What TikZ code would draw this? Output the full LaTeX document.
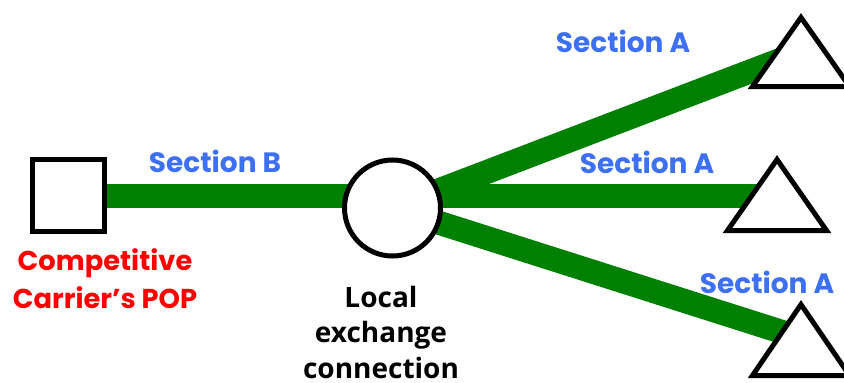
\documentclass[tikz,border=0pt]{standalone}
\usepackage{fontspec}
\setmainfont{Poppins}
\newfontfamily\captionfont{Open Sans}
\definecolor{linkgreen}{RGB}{0,128,0}
\definecolor{secblue}{RGB}{61,112,245}
\definecolor{popred}{RGB}{255,0,0}
\tikzset{
  link/.style={line width=24pt, draw=linkgreen},
  outline/.style={draw=black, line width=5pt, fill=white},
  sectionlabel/.style={text=secblue, font=\bfseries\fontsize{28}{34}\selectfont, anchor=base, inner sep=0pt},
}
\begin{document}
\begin{tikzpicture}[x=1pt, y=-1pt]
  \useasboundingbox (0,0) rectangle (844,383);
  \clip (0,0) rectangle (844,383);

  % endpoints
  \node[outline, rectangle, minimum size=72pt, inner sep=0pt] (pop) at (68.5,195.5) {};
  \coordinate (ex) at (392.5,208);
  \coordinate (tA) at (801,52);
  \coordinate (tB) at (777,195);
  \coordinate (tC) at (801,338);

  % green links, drawn before the exchange and the triangles
  \draw[link] (pop.east) -- (pop.east -| tB);
  \draw[link] (ex) -- (tA);
  \draw[link] (ex) -- (tC);

  \node[outline, circle, minimum size=96pt, inner sep=0pt] (lec) at (ex) {};

  % subscriber triangles
  \draw[outline, line join=miter, shift={(tA)}] (0,-34.5) -- (48.5,34.5) -- (-48.5,34.5) -- cycle;
  \draw[outline, line join=miter, shift={(tB)}] (0,-35.5) -- (49.5,35.5) -- (-49.5,35.5) -- cycle;
  \draw[outline, line join=miter, shift={(tC)}] (0,-33.5) -- (48.5,37.5) -- (-48.5,37.5) -- cycle;

  % labels
  \node[sectionlabel] (lb) at (215,172) {Section B};
  \node[sectionlabel] (la1) at (623,52) {Section A};
  \node[sectionlabel] (la2) at (647,173) {Section A};
  \node[sectionlabel] (la3) at (767,293) {Section A};

  \node[text=popred, font=\bfseries\fontsize{27.3}{38}\selectfont, align=center, anchor=north, inner sep=0pt] (poplabel) at (105,248) {Competitive\\Carrier’s POP};
  \node[text=black, font=\captionfont\bfseries\fontsize{28}{35.5}\selectfont, align=center, anchor=north, inner sep=0pt] (leclabel) at (381,286) {Local\\exchange\\connection};
\end{tikzpicture}
\end{document}
